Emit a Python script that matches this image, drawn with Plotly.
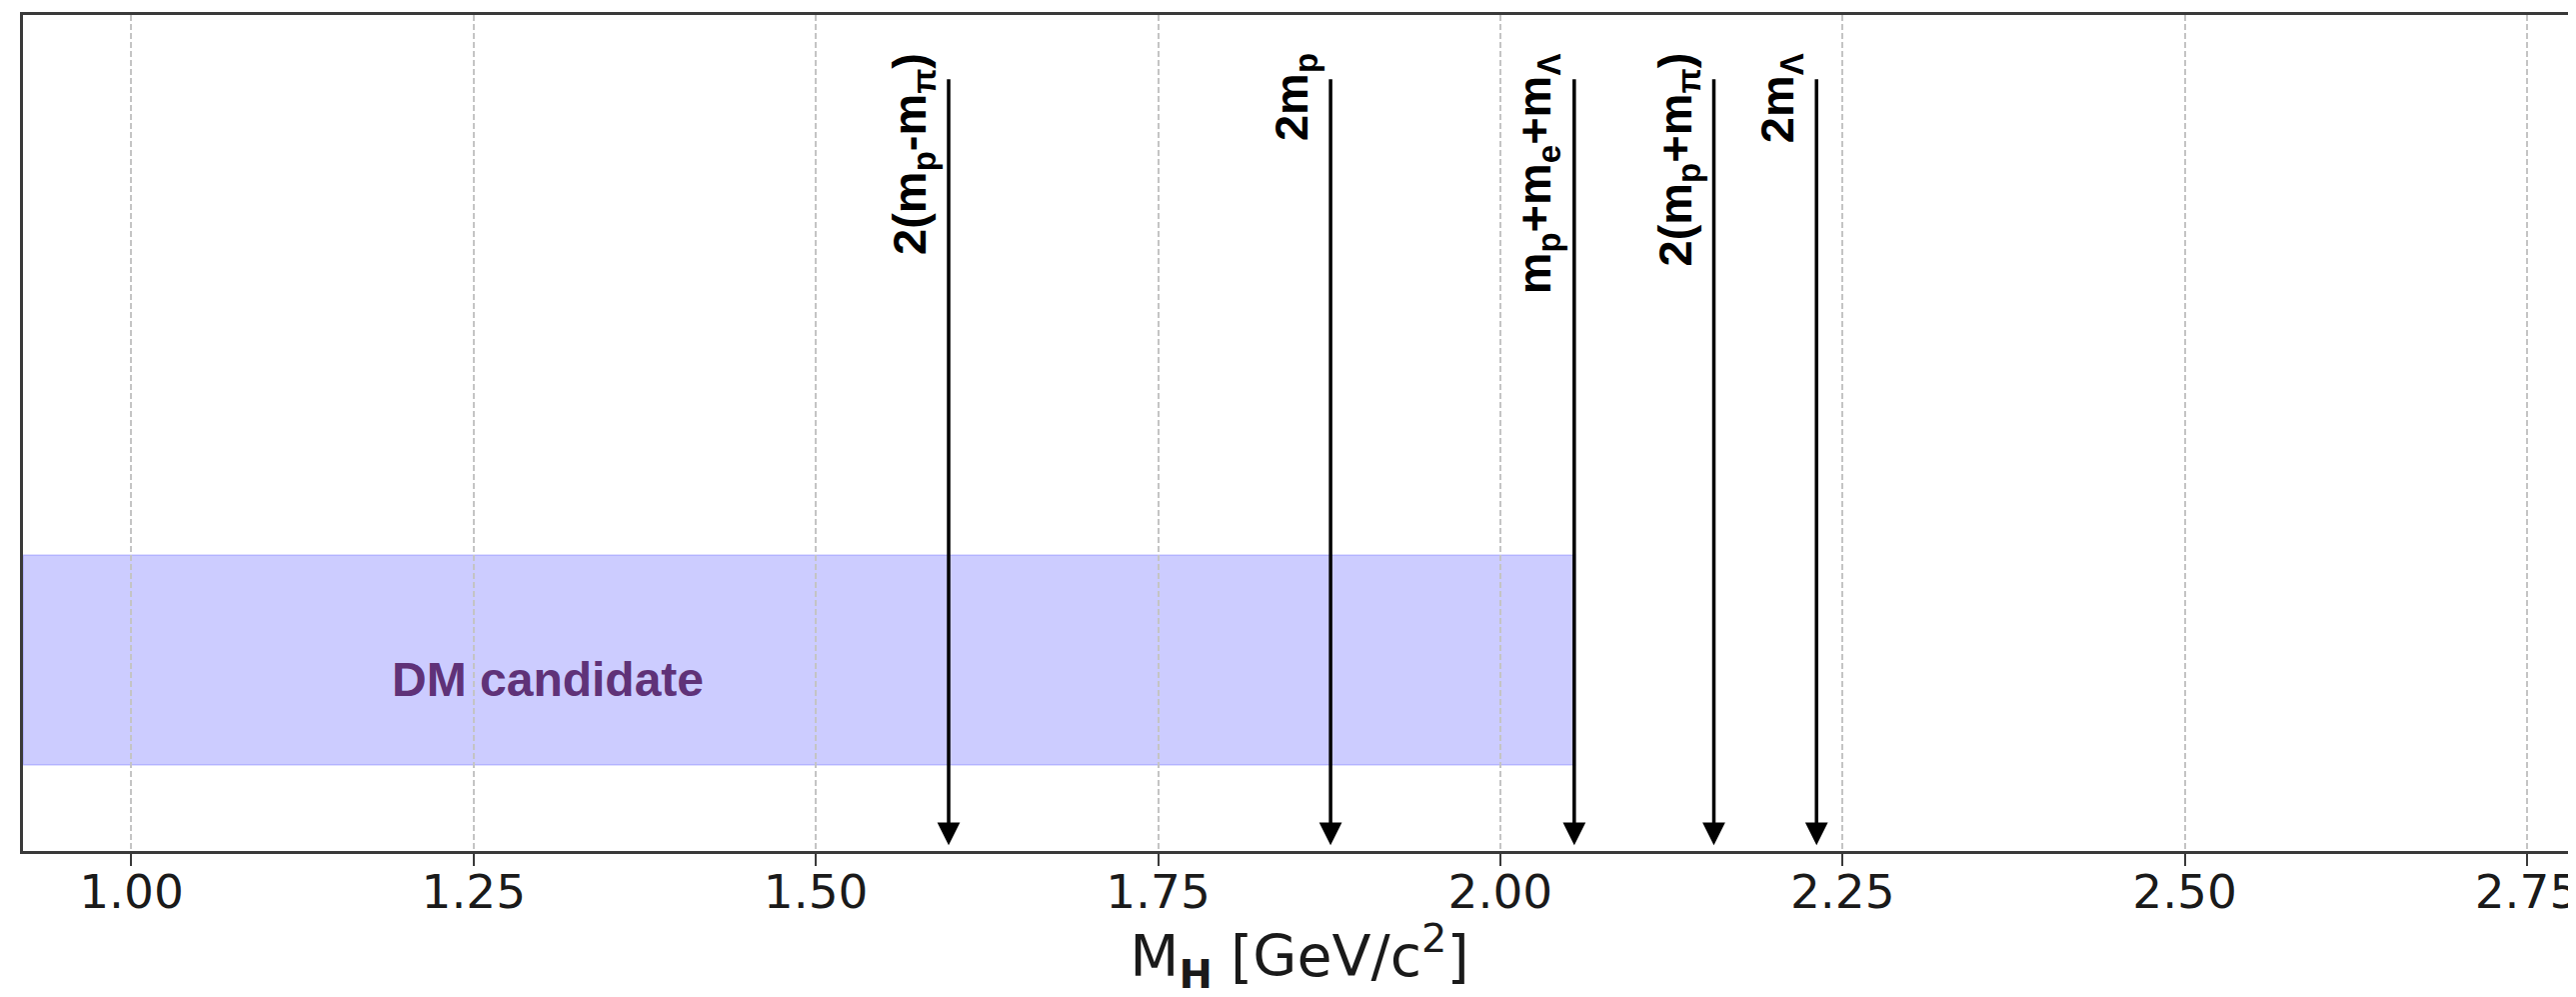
import plotly.graph_objects as go

# ---- data ----
threshold_labels = [
    "2(m<sub>p</sub>-m<sub>π</sub>)",
    "2m<sub>p</sub>",
    "m<sub>p</sub>+m<sub>e</sub>+m<sub>Λ</sub>",
    "2(m<sub>p</sub>+m<sub>π</sub>)",
    "2m<sub>Λ</sub>",
]
threshold_masses = [1.597, 1.876, 2.054, 2.156, 2.231]   # GeV/c^2
arrow_top = 0.925
arrow_bottom = 0.007
label_top = 0.957

dm_band_x = [0.9208, 2.0545]
dm_band_y = [0.103, 0.354]
dm_label = "DM candidate"
dm_label_pos = [1.304, 0.205]

x_range = [0.9208, 2.7858]
y_range = [0.0, 1.0]
x_ticks = [1.00, 1.25, 1.50, 1.75, 2.00, 2.25, 2.50, 2.75]

# ---- figure ----
fig = go.Figure()
# invisible trace to instantiate axes
fig.add_trace(go.Scatter(x=[x_range[0]], y=[y_range[0]], mode="markers",
                         marker=dict(opacity=0), showlegend=False, hoverinfo="skip"))

# DM candidate band
fig.add_shape(type="rect", xref="x", yref="y",
              x0=dm_band_x[0], x1=dm_band_x[1], y0=dm_band_y[0], y1=dm_band_y[1],
              fillcolor="rgba(0,0,255,0.2)", line=dict(color="rgba(0,0,255,0.12)", width=2),
              layer="below")

fig.add_annotation(x=dm_label_pos[0], y=dm_label_pos[1], xref="x", yref="y",
                   text="<b>" + dm_label + "</b>", showarrow=False,
                   font=dict(family="Liberation Sans, Arial", size=48, color="#5f3278"),
                   xanchor="center", yanchor="middle")

# threshold arrows and labels
for lab, m in zip(threshold_labels, threshold_masses):
    fig.add_annotation(x=m, y=arrow_bottom, ax=m, ay=arrow_top,
                       xref="x", yref="y", axref="x", ayref="y",
                       text="", showarrow=True, arrowhead=2, arrowsize=1.3,
                       arrowwidth=3.5, arrowcolor="black")
    fig.add_annotation(x=m, y=label_top, xref="x", yref="y",
                       text="<b>" + lab + "</b>", showarrow=False, textangle=-90,
                       xanchor="right", yanchor="top", xshift=-4,
                       font=dict(family="Liberation Sans, Arial", size=47, color="black"))

fig.update_xaxes(range=x_range, tickvals=x_ticks, tickformat=".2f",
                 showline=True, mirror=True, linecolor="#3a3a3a", linewidth=2.5,
                 ticks="outside", ticklen=12, tickwidth=2, tickcolor="#3a3a3a",
                 showgrid=True, gridcolor="#c4c4c4", gridwidth=1.5, griddash="6px,3px",
                 zeroline=False, ticklabeloverflow="allow", ticklabelstandoff=-14,
                 tickfont=dict(family="DejaVu Sans", size=47, color="#1a1a1a"),
                 title=dict(text="M<sub><b>H</b></sub> [GeV/c<sup>2</sup>]",
                            font=dict(family="DejaVu Sans", size=57, color="#1a1a1a"),
                            standoff=20))
fig.update_yaxes(range=y_range, showline=True, mirror=False, linecolor="#3a3a3a",
                 linewidth=2.5, showticklabels=False, ticks="", showgrid=False,
                 zeroline=False)

# page body has an 8px default margin; figure is sized/offset to compensate
fig.update_layout(width=2569, height=989, plot_bgcolor="white", paper_bgcolor="white",
                  margin=dict(l=15, r=0, t=7, b=146, autoexpand=False),
                  showlegend=False)

fig.write_html("out.html")
